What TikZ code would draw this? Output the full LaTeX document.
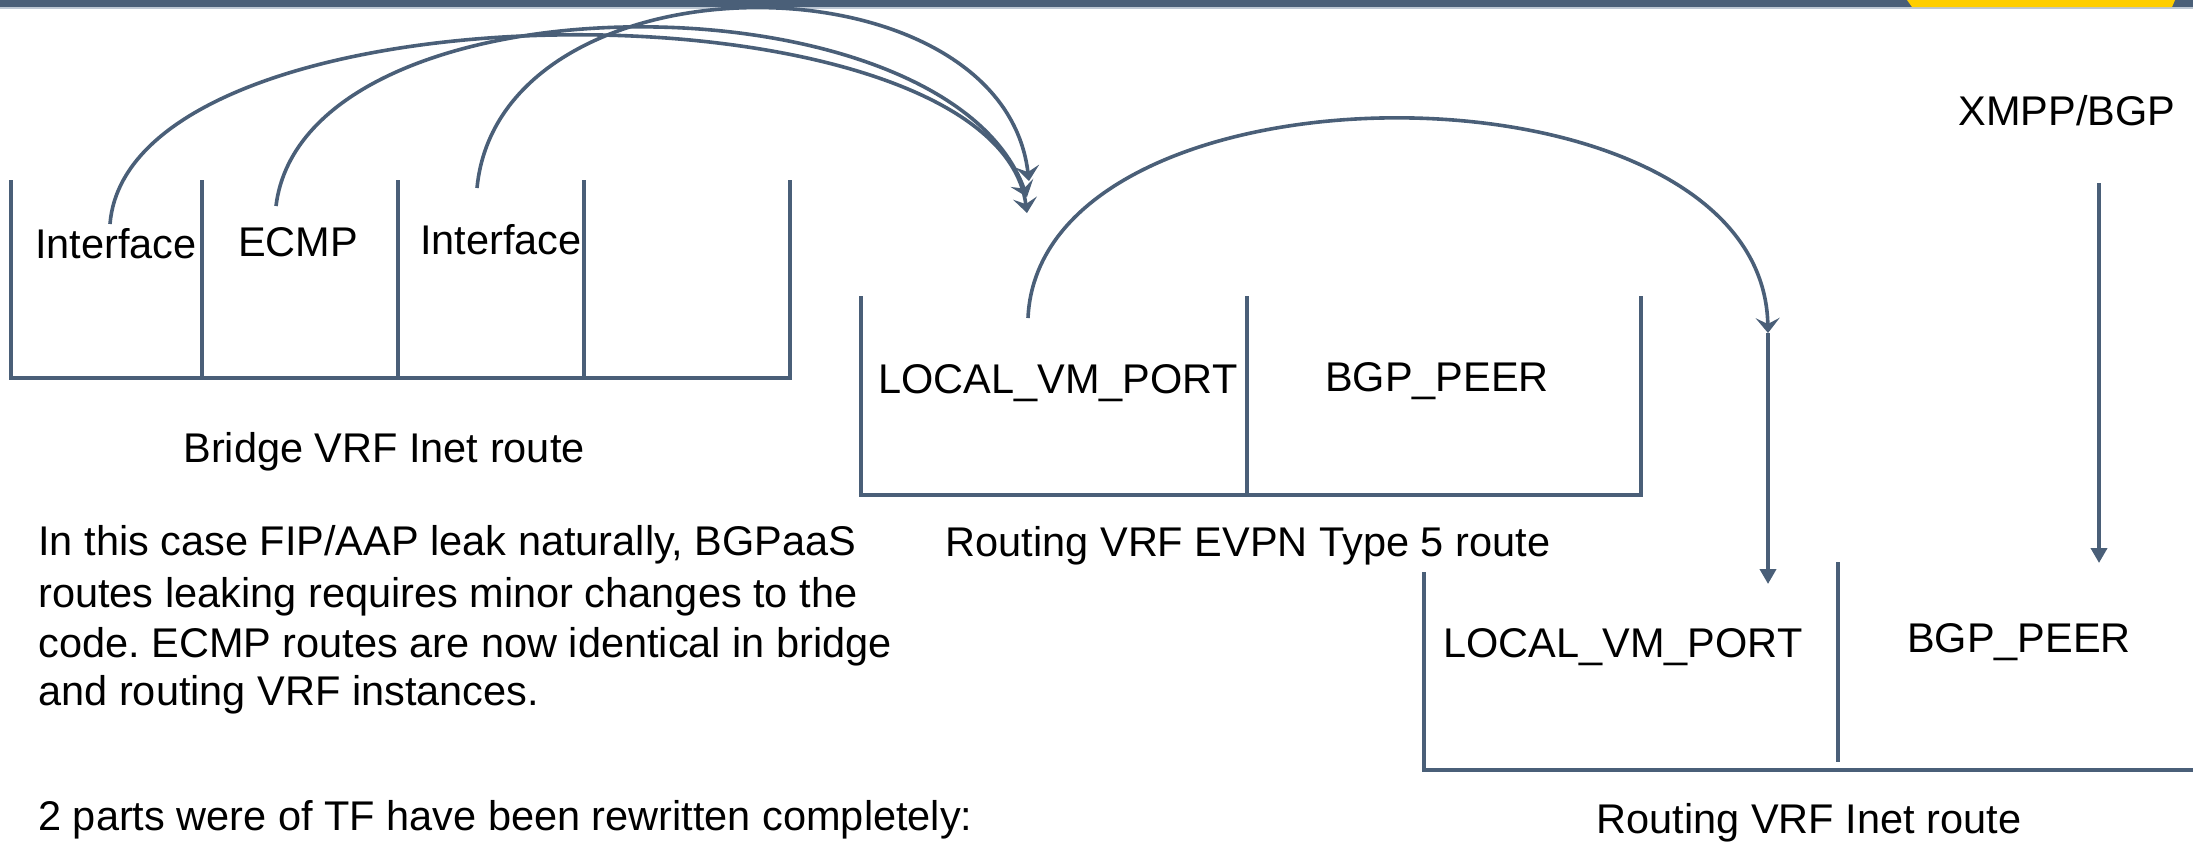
\documentclass[tikz,border=0pt]{standalone}
\usepackage{fontspec}
\setmainfont{Liberation Sans}
\usetikzlibrary{arrows.meta}
\definecolor{slate}{RGB}{74,95,120}
\definecolor{slatelight}{RGB}{190,200,212}
\definecolor{baryellow}{RGB}{255,206,0}
\tikzset{
  boxline/.style={draw=slate, line width=2.4pt, line cap=rect},
  arcline/.style={draw=slate, line width=1.8pt, -{Stealth[length=7.5pt,width=12pt,inset=3pt]}},
  vline/.style={draw=slate, line width=2.4pt, -{Triangle[length=7.5pt,width=8pt]}},
  lbl/.style={inner sep=0pt, anchor=base, text=black},
  para/.style={inner sep=0pt, anchor=base west, text=black}
}
\frenchspacing
\begin{document}
\begin{tikzpicture}[x=0.5pt, y=-0.5pt, font=\fontsize{20.75}{25}\selectfont]
\useasboundingbox (0,0) rectangle (2193,843);
% top bar
\fill[slate] (0,0) rectangle (2193,6.5);
\fill[slatelight] (0,6.5) rectangle (2193,8.5);
\fill[baryellow] (1907,0) -- (2175,0) -- (2172,7) -- (1912,7) -- cycle;

% Bridge VRF Inet route box
\draw[boxline] (11,182) -- (11,378) -- (790,378) -- (790,182);
\draw[boxline] (202,182) -- (202,378);
\draw[boxline] (398,182) -- (398,378);
\draw[boxline] (584,182) -- (584,378);
\node[lbl] (bif1) at (116,258) {Interface};
\node[lbl] (becmp) at (298,256) {ECMP};
\node[lbl] (bif2) at (501,254) {Interface};
\node[lbl] (bcap) at (384,462) {Bridge VRF Inet route};

% Routing VRF EVPN Type 5 route box
\draw[boxline] (861,298) -- (861,495) -- (1641,495) -- (1641,298);
\draw[boxline] (1247,298) -- (1247,495);
\node[lbl] (elocal) at (1058,393) {LOCAL\_VM\_PORT};
\node[lbl] (epeer) at (1437,391) {BGP\_PEER};
\node[lbl] (ecap) at (1248,556) {Routing VRF EVPN Type 5 route};

% Routing VRF Inet route box
\draw[boxline] (1424,574) -- (1424,770) -- (2200,770);
\draw[boxline] (1838,564) -- (1838,760);
\node[lbl] (ilocal) at (1623,657) {LOCAL\_VM\_PORT};
\node[lbl] (ipeer) at (2019,652) {BGP\_PEER};
\node[lbl] (icap) at (1809,833) {Routing VRF Inet route};

% XMPP/BGP
\node[lbl] (xmpp) at (2067,125) {XMPP/BGP};

% paragraph
\node[para] (p1) at (38,555) {In this case FIP/AAP leak naturally, BGPaaS};
\node[para] (p2) at (38,607) {routes leaking requires minor changes to the};
\node[para] (p3) at (38,657) {code. ECMP routes are now identical in bridge};
\node[para] (p4) at (38,705) {and routing VRF instances.};
\node[para] (p5) at (38,830) {2 parts were of TF have been rewritten completely:};

% connector end points
\coordinate (a1s) at (110,224);
\coordinate (a1e) at (1027,213);
\coordinate (a2s) at (276,206);
\coordinate (a2e) at (1027,197);
\coordinate (a3s) at (477,188);
\coordinate (a3e) at (1029,181);
\coordinate (bs) at (1028,318);
\coordinate (be) at (1768,333);
\coordinate (ve) at (1768,584);
\coordinate (xs) at (2099,183);
\coordinate (xe) at (2099,563);

% arcs
\draw[arcline] (a1s) .. controls (130,-25) and (995,-25) .. (a1e);
\draw[arcline] (a2s) .. controls (305,-30) and (945,-30) .. (a2e);
\draw[arcline] (a3s) .. controls (500,-50) and (1001,-50) .. (a3e);
\draw[arcline] (bs) .. controls (1040,50) and (1762,50) .. (be);

% vertical arrows
\draw[vline] (be) -- (ve);
\draw[vline] (xs) -- (xe);
\end{tikzpicture}
\end{document}
